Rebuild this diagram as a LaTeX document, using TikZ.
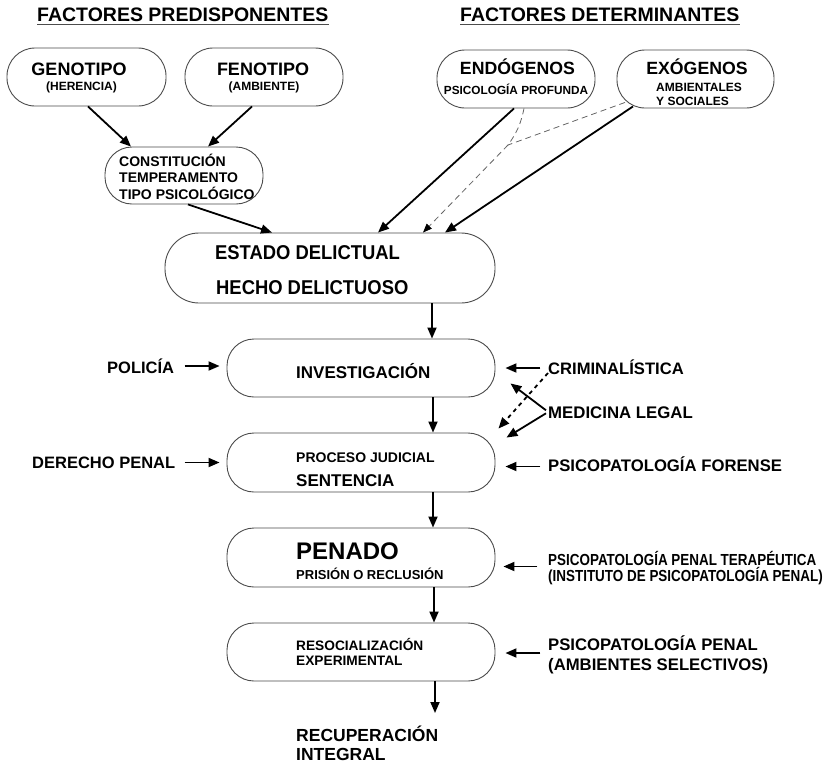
\documentclass[tikz,border=0pt]{standalone}
\usepackage{fontspec}
\setmainfont{Liberation Sans}
\newfontfamily\narfont{Liberation Sans}[FakeStretch=0.92]
\newfontfamily\narrfont{Liberation Sans}[FakeStretch=0.84]
\usetikzlibrary{arrows.meta,calc}
\newcommand\fs[1]{\fontsize{#1}{#1}\selectfont\bfseries}
\begin{document}
\begin{tikzpicture}[x=1pt,y=-1pt,
  box/.style={draw=black!70,line width=0.9pt,rounded corners=#1,inner sep=0pt},
  box/.default=27pt,
  txt/.style={inner sep=0pt,anchor=base west,text=black},
  ctxt/.style={inner sep=0pt,anchor=base,text=black},
  arr/.style={line width=1.8pt,-{Triangle[length=11pt,width=9pt]}},
  dsh/.style={draw=black!60,line width=0.8pt,dash pattern=on 6pt off 4pt},
  dotarr/.style={line width=1.8pt,dash pattern=on 4pt off 4pt,-{Triangle[length=11pt,width=9pt]}}
]
\fill[white] (0,0) rectangle (829,763);
\useasboundingbox (0,0) rectangle (829,763);

% titles
\node[txt,font=\fs{19.5}] (tl) at (37,21) {FACTORES PREDISPONENTES};
\node[txt,font=\fs{19.5}] (tr) at (460,21) {FACTORES DETERMINANTES};
\draw[black!70,line width=1.3pt] ($(tl.base west)+(0,3.5)$) -- ($(tl.base east)+(0,3.5)$);
\draw[black!70,line width=1.3pt] ($(tr.base west)+(0,3.5)$) -- ($(tr.base east)+(0,3.5)$);

% boxes
\node[box=28pt,minimum width=159pt,minimum height=58pt] (geno) at (86.5,77) {};
\node[box=28pt,minimum width=158pt,minimum height=58pt] (feno) at (264,77) {};
\node[box=27pt,minimum width=158pt,minimum height=57pt] (const) at (184,175.5) {};
\node[box=28pt,minimum width=158pt,minimum height=58pt] (endo) at (516,79) {};
\node[box=28pt,minimum width=157pt,minimum height=58pt] (exo) at (695.5,79) {};
\node[box=34pt,minimum width=330pt,minimum height=70pt] (estado) at (330,268) {};
\node[box,minimum width=268pt,minimum height=58pt] (inv) at (361,368) {};
\node[box,minimum width=268pt,minimum height=59pt] (proc) at (361,462.5) {};
\node[box,minimum width=268pt,minimum height=59pt] (pen) at (361,557.5) {};
\node[box,minimum width=268pt,minimum height=58pt] (res) at (361,652) {};

% box texts
\node[ctxt,font=\fs{18}] (genoT) at (79,75) {GENOTIPO};
\node[ctxt,font=\fs{12}] (genoS) at (81.5,90.5) {(HERENCIA)};
\node[ctxt,font=\fs{18}] (fenoT) at (263,75) {FENOTIPO};
\node[ctxt,font=\fs{12}] (fenoS) at (264,90.5) {(AMBIENTE)};
\node[ctxt,font=\fs{17.7}] (endoT) at (517.5,74) {ENDÓGENOS};
\node[ctxt,font=\fs{11.8}] (endoS) at (516,94.3) {PSICOLOGÍA PROFUNDA};
\node[ctxt,font=\fs{17.7}] (exoT) at (697,74) {EXÓGENOS};
\node[txt,font=\fs{12}] (exoS1) at (656,91.7) {AMBIENTALES};
\node[txt,font=\fs{12}] (exoS2) at (656,105.7) {Y SOCIALES};
\node[txt,font=\fs{14}] (c1) at (119,166.7) {CONSTITUCIÓN};
\node[txt,font=\fs{14}] (c2) at (119,182.7) {TEMPERAMENTO};
\node[txt,font=\fs{14}] (c3) at (119,199) {TIPO PSICOLÓGICO};
\node[txt,font=\narfont\fs{20}] (e1) at (215,259.3) {ESTADO DELICTUAL};
\node[txt,font=\narfont\fs{20}] (e2) at (216,294) {HECHO DELICTUOSO};
\node[txt,font=\fs{17}] (invT) at (296,378) {INVESTIGACIÓN};
\node[txt,font=\fs{14}] (procT) at (296,462.7) {PROCESO JUDICIAL};
\node[txt,font=\fs{17}] (sentT) at (296,486) {SENTENCIA};
\node[txt,font=\fs{24}] (penT) at (296,559.3) {PENADO};
\node[txt,font=\fs{13}] (prisT) at (296,579.3) {PRISIÓN O RECLUSIÓN};
\node[txt,font=\fs{13.7}] (resT) at (296,650) {RESOCIALIZACIÓN};
\node[txt,font=\fs{13.7}] (expT) at (296,665) {EXPERIMENTAL};
\node[txt,font=\fs{17.5}] (recup) at (296,741.5) {RECUPERACIÓN};
\node[txt,font=\fs{17.5}] (integ) at (296,760.5) {INTEGRAL};

% side labels
\node[txt,font=\fs{16.5}] (pol) at (107,373.3) {POLICÍA};
\node[txt,font=\fs{16.5}] (der) at (32,468.3) {DERECHO PENAL};
\node[txt,font=\fs{16.6}] (crim) at (548,374) {CRIMINALÍSTICA};
\node[txt,font=\fs{16.8}] (med) at (548,418.3) {MEDICINA LEGAL};
\node[txt,font=\fs{16.7}] (for) at (548,471.7) {PSICOPATOLOGÍA FORENSE};
\node[txt,font=\narrfont\fs{16}] (ter1) at (548,565) {PSICOPATOLOGÍA PENAL TERAPÉUTICA};
\node[txt,font=\narrfont\fs{16}] (ter2) at (548,581) {(INSTITUTO DE PSICOPATOLOGÍA PENAL)};
\node[txt,font=\fs{16.7}] (pp1) at (548,650.7) {PSICOPATOLOGÍA PENAL};
\node[txt,font=\fs{16.7}] (pp2) at (548,670) {(AMBIENTES SELECTIVOS)};

% top arrows
\draw[arr] ($(geno.south)+(1.5,0)$) -- ($(const.north)+(-53,0)$);
\draw[arr] ($(feno.south)+(-12,0)$) -- ($(const.north)+(24,0)$);
\draw[arr] ($(const.south)+(4,0)$) -- ($(estado.north)+(-58,0)$);
\draw[arr] ($(endo.south)+(-2,0)$) -- ($(estado.north)+(48,0)$);
\draw[arr] ($(exo.south)+(-62.5,-2)$) -- ($(estado.north)+(115,0)$);
\coordinate (join) at (508,145);
\draw[dsh] ($(endo.south)+(8,0)$) to[bend left=12] (join);
\draw[dsh] ($(exo.south)+(-70.5,-6)$) -- (join);
\draw[dsh,-{Triangle[length=9pt,width=7pt,color=black,fill=black]}] (join) -- ($(estado.north)+(93,0)$);

% vertical flow
\draw[arr] ($(estado.south)+(102,0)$) -- ($(inv.north)+(71,0)$);
\draw[arr] ($(inv.south)+(72,0)$) -- ($(proc.north)+(72,0)$);
\draw[arr] ($(proc.south)+(72,0)$) -- ($(pen.north)+(72,0)$);
\draw[arr] ($(pen.south)+(73,0)$) -- ($(res.north)+(73,0)$);
\coordinate (recupTop) at (435,713);
\draw[arr] ($(res.south)+(74,0)$) -- (recupTop);

% left arrows
\draw[arr] ($(inv.west)+(-42,-2)$) -- ($(inv.west)+(-7,-2)$);
\draw[arr] ($(proc.west)+(-42,0)$) -- ($(proc.west)+(-7,0)$);

% right arrows
\draw[arr] ($(inv.east)+(45,0)$) -- ($(inv.east)+(10,0)$);
\draw[arr] ($(proc.east)+(45,4)$) -- ($(proc.east)+(10,4)$);
\draw[arr] ($(pen.east)+(42,9)$) -- ($(pen.east)+(8,9)$);
\draw[arr] ($(res.east)+(45,1)$) -- ($(res.east)+(10,1)$);

% medicina legal
\draw[arr] ($(med.base west)+(-2,-8)$) -- ($(inv.south east)+(15,-14)$);
\draw[arr] ($(med.base west)+(-2,-5)$) -- ($(proc.north east)+(11,5)$);
\draw[dotarr] ($(crim.base west)+(0,-1)$) -- ($(proc.north east)+(3,-4)$);
\end{tikzpicture}
\end{document}
